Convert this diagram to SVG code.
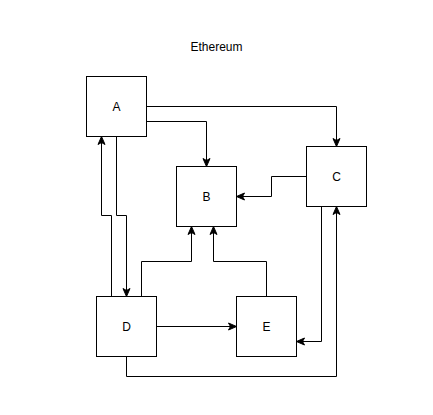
<svg xmlns="http://www.w3.org/2000/svg" width="433" height="415" viewBox="0 0 433 415">
<style>
.box{fill:#ffffff;stroke:#000000;stroke-width:1}
.lbl{font-family:"Liberation Sans",Arial,sans-serif;font-size:12px;fill:#000000;text-anchor:middle}
.edge{fill:none;stroke:#000000;stroke-width:1}
</style>
<defs>
<marker id="arr" markerUnits="userSpaceOnUse" markerWidth="10" markerHeight="10" viewBox="0 0 10 10" refX="9" refY="5" orient="auto">
<path d="M1,1.5 L9,5 L1,8.5 L3,5 Z" fill="#000000" stroke="#000000" stroke-width="1"/>
</marker>
</defs>
<rect width="433" height="415" fill="#ffffff"/>
<text class="lbl" x="216.5" y="51">Ethereum</text>
<g id="connectors">
<path class="edge" d="M146.5,106.5 H336.5 V146.5" marker-end="url(#arr)"/>
<path class="edge" d="M146.5,121.5 H206.5 V166.5" marker-end="url(#arr)"/>
<path class="edge" d="M306.5,176.5 H271.5 V196.5 H236.5" marker-end="url(#arr)"/>
<path class="edge" d="M116.5,136.5 V215.5 H126.5 V296.5" marker-end="url(#arr)"/>
<path class="edge" d="M111.5,296.5 V215.5 H101.5 V136.5" marker-end="url(#arr)"/>
<path class="edge" d="M141.5,296.5 V261.5 H191.5 V226.5" marker-end="url(#arr)"/>
<path class="edge" d="M266.5,296.5 V261.5 H213.5 V226.5" marker-end="url(#arr)"/>
<path class="edge" d="M156.5,326.5 H236.5" marker-end="url(#arr)"/>
<path class="edge" d="M321.5,206.5 V341.5 H296.5" marker-end="url(#arr)"/>
<path class="edge" d="M126.5,356.5 V376.5 H336.5 V206.5" marker-end="url(#arr)"/>
</g>
<g id="A"><rect class="box" x="86.5" y="76.5" width="60" height="60"/><text class="lbl" x="116.5" y="111">A</text></g>
<g id="B"><rect class="box" x="176.5" y="166.5" width="60" height="60"/><text class="lbl" x="206.5" y="201">B</text></g>
<g id="C"><rect class="box" x="306.5" y="146.5" width="60" height="60"/><text class="lbl" x="336.5" y="181">C</text></g>
<g id="D"><rect class="box" x="96.5" y="296.5" width="60" height="60"/><text class="lbl" x="126.5" y="331">D</text></g>
<g id="E"><rect class="box" x="236.5" y="296.5" width="60" height="60"/><text class="lbl" x="266.5" y="331">E</text></g>
</svg>
